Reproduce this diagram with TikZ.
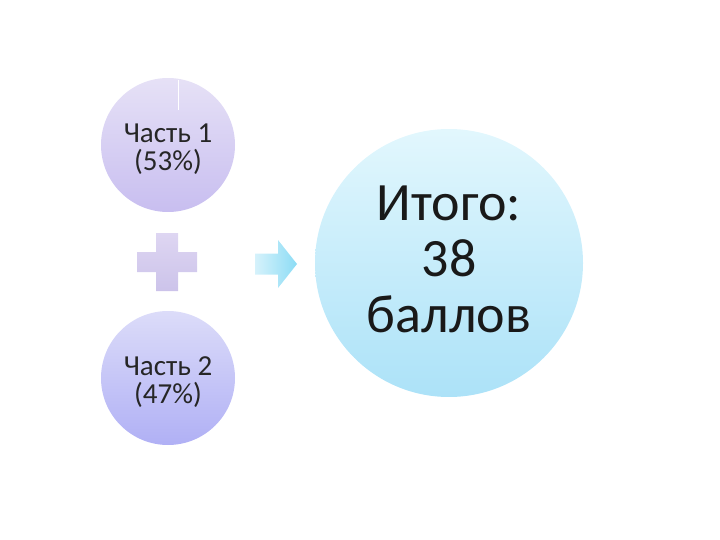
\documentclass[tikz,border=0pt]{standalone}
\usepackage{fontspec}
\setmainfont{Carlito}
\begin{document}
\begin{tikzpicture}[x=1pt,y=-1pt,
  smallcirc/.style={circle, draw=none, minimum size=134pt, inner sep=0pt},
  smalltext/.style={align=center, font=\fontsize{29}{28}\selectfont, text=black!85},
  bigcirc/.style={circle, draw=none, minimum size=268pt, inner sep=0pt},
  bigtext/.style={align=center, font=\fontsize{54}{56}\selectfont, text=black!90}]
\useasboundingbox (0,0) rectangle (720,540);
\node[smallcirc, top color={rgb,255:red,230;green,225;blue,246}, bottom color={rgb,255:red,200;green,190;blue,240}] (p1) at (168,145) {};
\node[smallcirc, top color={rgb,255:red,220;green,220;blue,249}, bottom color={rgb,255:red,176;green,176;blue,245}] (p2) at (168,378) {};
\node[bigcirc, top color={rgb,255:red,226;green,247;blue,253}, bottom color={rgb,255:red,172;green,226;blue,248}] (tot) at (449,263) {};
\node[smalltext] (t1) at ([yshift=-4pt]p1.center) {Часть 1\\(53\%)};
\node[smalltext] (t2) at ([yshift=-4pt]p2.center) {Часть 2\\(47\%)};
\node[bigtext] (t3) at ([yshift=4pt]tot.center) {Итого:\\38\\баллов};
\draw[white, line width=0.8pt] (178,80) -- (178,110);
% plus
\coordinate (plus) at (167,262);
\path[top color={rgb,255:red,222;green,214;blue,242}, bottom color={rgb,255:red,204;green,195;blue,234}]
  ([xshift=-11pt,yshift=29pt]plus) -- ([xshift=11pt,yshift=29pt]plus) -- ([xshift=11pt,yshift=10pt]plus)
  -- ([xshift=30pt,yshift=10pt]plus) -- ([xshift=30pt,yshift=-10pt]plus) -- ([xshift=11pt,yshift=-10pt]plus)
  -- ([xshift=11pt,yshift=-29pt]plus) -- ([xshift=-11pt,yshift=-29pt]plus) -- ([xshift=-11pt,yshift=-10pt]plus)
  -- ([xshift=-30pt,yshift=-10pt]plus) -- ([xshift=-30pt,yshift=10pt]plus) -- ([xshift=-11pt,yshift=10pt]plus) -- cycle;
% arrow
\coordinate (arr) at (255,264);
\path[left color={rgb,255:red,214;green,242;blue,251}, right color={rgb,255:red,140;green,220;blue,245}]
  ([yshift=10.5pt]arr) -- ([xshift=23pt,yshift=10.5pt]arr) -- ([xshift=23pt,yshift=24pt]arr)
  -- ([xshift=42pt]arr) -- ([xshift=23pt,yshift=-24pt]arr) -- ([xshift=23pt,yshift=-10.5pt]arr)
  -- ([yshift=-10.5pt]arr) -- cycle;
\end{tikzpicture}
\end{document}
